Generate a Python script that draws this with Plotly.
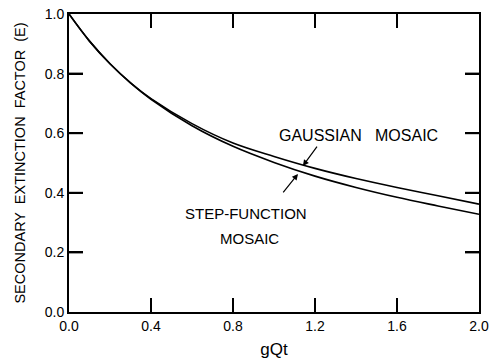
import plotly.graph_objects as go

# Data
gqt = [0.0, 0.1, 0.2, 0.3, 0.4, 0.6, 0.8, 1.0, 1.2, 1.4, 1.6, 1.8, 2.0]
step_function = [1.0, 0.909, 0.833, 0.769, 0.714, 0.625, 0.556, 0.502, 0.456, 0.418, 0.385, 0.356, 0.328]
gaussian = [1.0, 0.909, 0.833, 0.769, 0.716, 0.632, 0.567, 0.522, 0.482, 0.448, 0.418, 0.39, 0.362]

x_ticks = [0.0, 0.4, 0.8, 1.2, 1.6, 2.0]
x_tick_labels = ["0.0", "0.4", "0.8", "1.2", "1.6", "2.0"]
y_ticks = [0.0, 0.2, 0.4, 0.6, 0.8, 1.0]
y_tick_labels = ["0.0", "0.2", "0.4", "0.6", "0.8", "1.0"]

FONT = "Liberation Sans, Arial, sans-serif"
W, H = 494, 362
ML, MR, MT, MB = 69, 15, 14, 50
TICK_PX = 14
X_RANGE = [0, 2.0]
Y_RANGE = [0, 1.0]

fig = go.Figure()
fig.add_trace(go.Scatter(x=gqt, y=gaussian, mode="lines", line=dict(color="black", width=1.6, shape="spline"),
                         name="Gaussian mosaic", showlegend=False))
fig.add_trace(go.Scatter(x=gqt, y=step_function, mode="lines", line=dict(color="black", width=1.6, shape="spline"),
                         name="Step-function mosaic", showlegend=False))

# inside tick marks on all four sides, built from the tick arrays
plot_w = W - ML - MR
plot_h = H - MT - MB
dy = TICK_PX / plot_h * (Y_RANGE[1] - Y_RANGE[0])
dx = TICK_PX / plot_w * (X_RANGE[1] - X_RANGE[0])
tx, ty = [], []
for v in x_ticks[1:-1]:
    tx += [v, v, None, v, v, None]
    ty += [Y_RANGE[0], Y_RANGE[0] + dy, None, Y_RANGE[1] - dy, Y_RANGE[1], None]
for v in y_ticks[1:-1]:
    tx += [X_RANGE[0], X_RANGE[0] + dx, None, X_RANGE[1] - dx, X_RANGE[1], None]
    ty += [v, v, None, v, v, None]
fig.add_trace(go.Scatter(x=tx, y=ty, mode="lines", line=dict(color="black", width=2),
                         hoverinfo="skip", showlegend=False, connectgaps=False, cliponaxis=False))

fig.update_layout(
    xaxis=dict(range=X_RANGE, tickmode="array", tickvals=x_ticks, ticktext=x_tick_labels,
               showline=True, linecolor="black", linewidth=2, mirror="ticks",
               ticks="inside", ticklen=TICK_PX, tickwidth=2, tickcolor="black",
               showgrid=False, zeroline=False, automargin=False,
               tickfont=dict(family=FONT, size=14, color="black"),
               title=dict(text="gQt", font=dict(family=FONT, size=17, color="black"), standoff=10)),
    yaxis=dict(range=Y_RANGE, tickmode="array", tickvals=y_ticks, ticktext=y_tick_labels,
               showline=True, linecolor="black", linewidth=2, mirror="ticks",
               ticks="inside", ticklen=TICK_PX, tickwidth=2, tickcolor="black",
               showgrid=False, zeroline=False, automargin=False,
               tickfont=dict(family=FONT, size=14, color="black"),
               title=dict(text="SECONDARY  EXTINCTION  FACTOR  (E)", font=dict(family=FONT, size=14.5, color="black"), standoff=16)),
)

annotations = [
    dict(x=1.41, y=0.593, text="GAUSSIAN   MOSAIC", showarrow=False, size=16),
    dict(x=0.863, y=0.332, text="STEP-FUNCTION", showarrow=False, size=15),
    dict(x=0.88, y=0.248, text="MOSAIC", showarrow=False, size=15),
    dict(x=1.141, y=0.49, ax=1.215, ay=0.560, axref="x", ayref="y", text="", showarrow=True,
         arrowhead=2, arrowsize=1, arrowwidth=1.2, arrowcolor="black", size=15),
    dict(x=1.117, y=0.463, ax=1.039, ay=0.396, axref="x", ayref="y", text="", showarrow=True,
         arrowhead=2, arrowsize=1, arrowwidth=1.2, arrowcolor="black", size=15),
]
for a in annotations:
    a.setdefault("xref", "x")
    a.setdefault("yref", "y")
    a["font"] = dict(family=FONT, size=a.pop("size"), color="black")
fig.update_layout(annotations=annotations)

fig.update_layout(width=W, height=H, margin=dict(l=ML, r=MR, t=MT, b=MB, autoexpand=False),
                  paper_bgcolor="white", plot_bgcolor="white")

fig.write_html("out.html")
